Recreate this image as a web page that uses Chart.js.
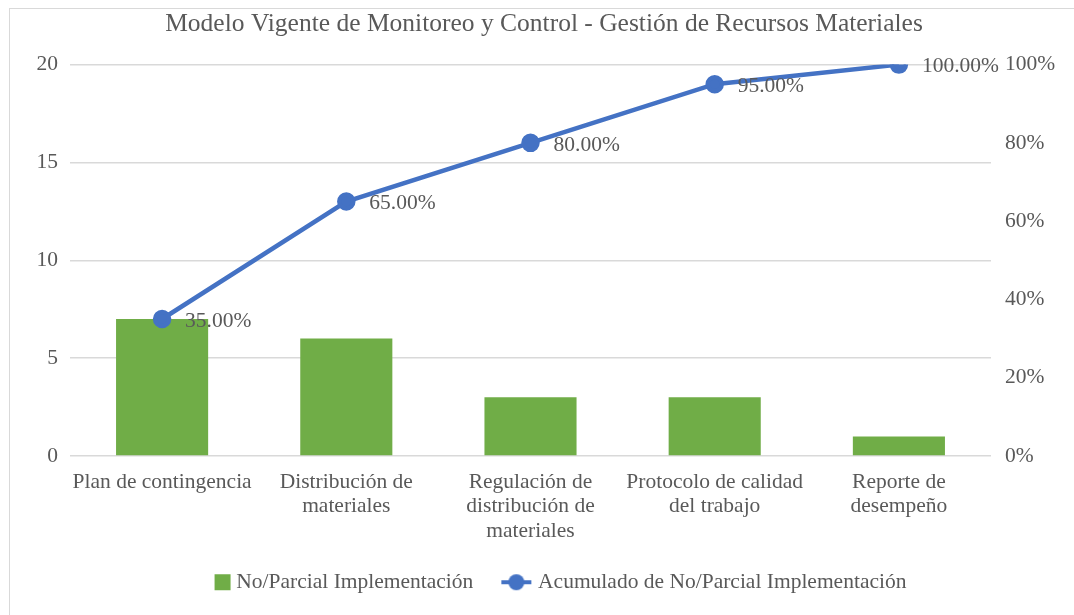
<!DOCTYPE html>
<html>
<head>
<meta charset="utf-8">
<script src="https://cdn.jsdelivr.net/npm/chart.js@4/dist/chart.umd.min.js"></script>
<style>
    body { margin: 0; background: #fff; }
    #marco { position: absolute; left: 9px; top: 8px; width: 1080px; height: 620px; border: 1px solid #d9d9d9; }
    #caja { position: absolute; left: 0; top: 0; width: 1074px; height: 615px; }
</style>
</head>
<body>
<div id="marco"></div>
<div id="caja"><canvas id="grafico"></canvas></div>
<script>
let categorias = [
    'Plan de contingencia',
    ['Distribución de', 'materiales'],
    ['Regulación de', 'distribución de', 'materiales'],
    ['Protocolo de calidad', 'del trabajo'],
    ['Reporte de', 'desempeño']
]
let implementacion = [7, 6, 3, 3, 1]
let acumulado = [35, 65, 80, 95, 100]
let titulo = 'Modelo Vigente de Monitoreo y Control - Gestión de Recursos Materiales'

let fuente = '"Liberation Serif", "Times New Roman", serif'
let gris = '#595959'
let verde = '#70AD47'
let azul = '#4472C4'
let letra = 21.5

// iconos de leyenda (canvas de 50px, centrado por Chart.js)
let icono = document.createElement('canvas')
icono.width = 50
icono.height = 22
let ic = icono.getContext('2d')
ic.strokeStyle = azul
ic.lineWidth = 4
ic.beginPath()
ic.moveTo(15, 11)
ic.lineTo(45, 11)
ic.stroke()
ic.fillStyle = azul
ic.beginPath()
ic.arc(30, 11, 8, 0, Math.PI * 2)
ic.fill()

let cuadro = document.createElement('canvas')
cuadro.width = 50
cuadro.height = 22
let cc = cuadro.getContext('2d')
cc.fillStyle = verde
cc.fillRect(30, 3, 16, 16)

let etiquetas = {
    id: 'etiquetas',
    afterLayout(chart) {
        // mover un poco la leyenda a la derecha
        chart.legend.left += 6
        chart.legend.right += 6
    },
    afterDatasetsDraw(chart) {
        let ctx = chart.ctx
        let meta = chart.getDatasetMeta(1)
        ctx.save()
        ctx.font = letra + 'px ' + fuente
        ctx.fillStyle = gris
        ctx.textBaseline = 'middle'
        ctx.textAlign = 'left'
        meta.data.forEach((p, i) => {
            ctx.fillText(acumulado[i].toFixed(2) + '%', p.x + 23, p.y + 2)
        })
        ctx.restore()
    }
}

let ctx = document.getElementById('grafico').getContext('2d')
new Chart(ctx, {
    type: 'bar',
    data: {
        labels: categorias,
        datasets: [{
            label: 'No/Parcial Implementación',
            data: implementacion,
            backgroundColor: verde,
            categoryPercentage: 1,
            barPercentage: 0.5,
            yAxisID: 'y',
            order: 2
        }, {
            type: 'line',
            label: 'Acumulado de No/Parcial Implementación',
            data: acumulado,
            borderColor: azul,
            backgroundColor: azul,
            borderWidth: 4.5,
            pointRadius: 7,
            pointHoverRadius: 7,
            tension: 0,
            yAxisID: 'y1',
            order: 1
        }]
    },
    options: {
        responsive: true,
        maintainAspectRatio: false,
        animation: false,
        layout: { padding: { top: 9, left: 14, right: 0, bottom: 12 } },
        plugins: {
            title: {
                display: true,
                text: titulo,
                color: gris,
                font: { family: fuente, size: 25.5, weight: 'normal' },
                padding: { top: 0, bottom: 25 }
            },
            legend: {
                position: 'bottom',
                labels: {
                    color: gris,
                    font: { family: fuente, size: letra },
                    usePointStyle: true,
                    pointStyleWidth: 32,
                    padding: 22,
                    generateLabels(chart) {
                        return chart.data.datasets.map((d, i) => ({
                            text: d.label,
                            fontColor: gris,
                            pointStyle: i === 0 ? cuadro : icono,
                            datasetIndex: i,
                            lineWidth: 0,
                            strokeStyle: 'transparent',
                            fillStyle: i === 0 ? verde : azul
                        }))
                    }
                }
            },
            tooltip: { enabled: false }
        },
        scales: {
            x: {
                grid: { display: false },
                border: { display: false },
                ticks: {
                    color: gris,
                    font: { family: fuente, size: letra, lineHeight: 1.14 },
                    maxRotation: 0,
                    autoSkip: false,
                    padding: 6
                }
            },
            y: {
                position: 'left',
                min: 0,
                max: 20,
                ticks: {
                    stepSize: 5,
                    color: gris,
                    font: { family: fuente, size: letra },
                    padding: 12
                },
                grid: { color: '#d9d9d9', drawTicks: false, lineWidth: 1.5 },
                border: { display: false },
                afterFit(s) { s.width = 56 }
            },
            y1: {
                position: 'right',
                min: 0,
                max: 100,
                ticks: {
                    stepSize: 20,
                    color: gris,
                    font: { family: fuente, size: letra },
                    padding: 14,
                    callback: v => v + '%'
                },
                grid: { display: false, drawTicks: false },
                border: { display: false },
                afterFit(s) { s.width = 83 }
            }
        }
    },
    plugins: [etiquetas]
})
</script>
</body>
</html>
